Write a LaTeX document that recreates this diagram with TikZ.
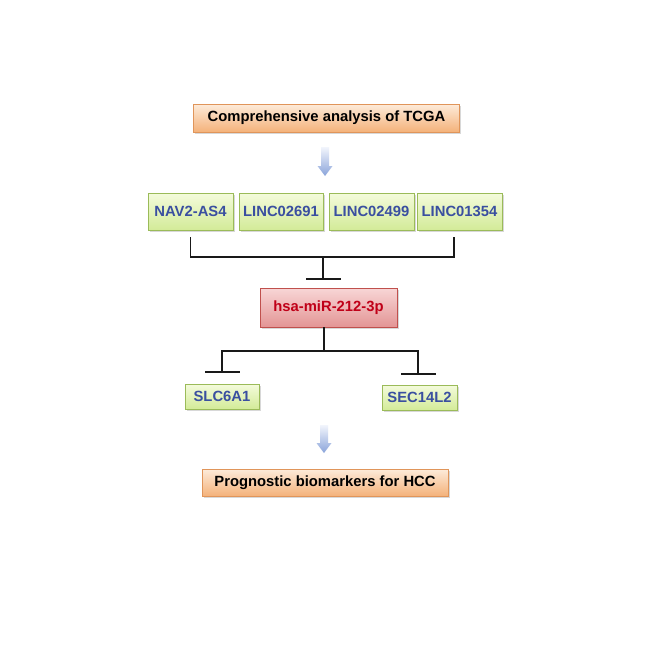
\documentclass[tikz,border=0pt]{standalone}
\usepackage{fontspec}
\setmainfont{Liberation Sans}
\usetikzlibrary{shadows,arrows.meta}
\definecolor{txtblue}{HTML}{3A4FA0}
\definecolor{txtred}{HTML}{C00018}
\definecolor{orbord}{HTML}{E0955A}
\definecolor{ortop}{HTML}{FDEBDA}
\definecolor{orbot}{HTML}{F4B27A}
\definecolor{grbord}{HTML}{9BBB59}
\definecolor{grtop}{HTML}{F4FBDC}
\definecolor{grbot}{HTML}{D3EB98}
\definecolor{rdbord}{HTML}{C0504D}
\definecolor{rdtop}{HTML}{F8D6D6}
\definecolor{rdbot}{HTML}{E39595}
\definecolor{arrtop}{HTML}{F2F5FC}
\definecolor{arrbot}{HTML}{8AA4DA}
\tikzset{
  basebox/.style={rectangle, inner sep=0pt, line width=0.9pt,
    font=\fontsize{14.8}{17}\selectfont\bfseries,
    drop shadow={shadow xshift=1.5pt, shadow yshift=-1.5pt, opacity=0.3}},
  orbox/.style={basebox, draw=orbord, top color=ortop, bottom color=orbot, text=black},
  grbox/.style={basebox, draw=grbord, top color=grtop, bottom color=grbot, text=txtblue},
  rdbox/.style={basebox, draw=rdbord, top color=rdtop, bottom color=rdbot, text=txtred},
  conn/.style={line width=1.8pt, draw=black!90},
  blockarrow/.style={top color=arrtop, bottom color=arrbot, draw=none}
}
\begin{document}
\begin{tikzpicture}[x=1pt,y=-1pt]
\useasboundingbox (0,0) rectangle (664,664);
\fill[white] (0,0) rectangle (664,664);

\node[orbox, minimum width=266, minimum height=28] (tcga) at (326.5,118) {Comprehensive analysis of TCGA};

\coordinate (a1) at (325,147);
\path[blockarrow] ([xshift=-4]a1) -- ([xshift=4]a1) -- ([xshift=4,yshift=-19]a1) -- ([xshift=7.5,yshift=-19]a1) -- ([yshift=-29]a1) -- ([xshift=-7.5,yshift=-19]a1) -- ([xshift=-4,yshift=-19]a1) -- cycle;

\node[grbox, minimum width=85, minimum height=37] (n1) at (190.5,211.5) {NAV2-AS4};
\node[grbox, minimum width=84, minimum height=37] (n2) at (281,211.5) {LINC02691};
\node[grbox, minimum width=85, minimum height=37] (n3) at (371.5,211.5) {LINC02499};
\node[grbox, minimum width=85, minimum height=37] (n4) at (459.5,211.5) {LINC01354};

\coordinate (j1) at (323,257);
\coordinate (t1) at (323,280);
\draw[conn] ([yshift=-7pt]n1.south) |- (j1);
\draw[conn] ([xshift=-5.5pt,yshift=-7pt]n4.south) |- (j1);
\draw[conn, -{Bar[width=35pt,line width=1.8pt]}] (j1) -- (t1);

\node[rdbox, minimum width=137, minimum height=39] (mir) at (328.5,307.5) {hsa-miR-212-3p};

\coordinate (j2) at (324,351);
\coordinate (t2) at (222,373);
\coordinate (t3) at (418,375);
\draw[conn] (mir.south -| j2) -- (j2);
\draw[conn, -{Bar[width=35pt,line width=1.8pt]}] (j2) -| (t2);
\draw[conn, -{Bar[width=35pt,line width=1.8pt]}] (j2) -| (t3);

\node[grbox, minimum width=74, minimum height=25] (slc) at (222,396.5) {SLC6A1};
\node[grbox, minimum width=75, minimum height=25] (sec) at (419.5,397.5) {SEC14L2};

\coordinate (a2) at (324,425);
\path[blockarrow] ([xshift=-4]a2) -- ([xshift=4]a2) -- ([xshift=4,yshift=-18]a2) -- ([xshift=7.5,yshift=-18]a2) -- ([yshift=-28]a2) -- ([xshift=-7.5,yshift=-18]a2) -- ([xshift=-4,yshift=-18]a2) -- cycle;

\node[orbox, minimum width=246, minimum height=27] (hcc) at (325,482.5) {Prognostic biomarkers for HCC};
\end{tikzpicture}
\end{document}
